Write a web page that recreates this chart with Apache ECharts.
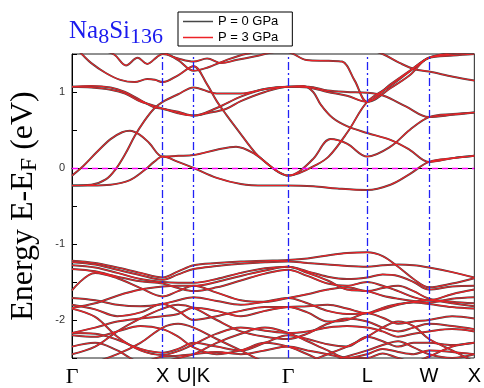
<!DOCTYPE html>
<html>
<head>
<meta charset="utf-8">
<title>Na8Si136 band structure</title>
<script src="https://cdn.jsdelivr.net/npm/echarts@6/dist/echarts.min.js"></script>
<style>
  html, body { margin: 0; padding: 0; background: #fff; }
  #chart { width: 484px; height: 388px; }
</style>
</head>
<body>
<div id="chart"></div>
<script>
// high symmetry points along the k path
const kTicks = [0, 94, 126, 224, 306, 370, 417];
const kLabels = ['Γ', 'X', 'U|K', 'Γ', 'L', 'W', 'X'];
const kLines = [94, 126, 224, 306, 370];

// conduction bands, [k, E]
const cb1 = [[0,-0.23],[20,-0.23],[40,-0.22],[60,-0.16],[75,-0.03],[85,0.08],[94,0.15],[110,0.08],[126,0.0],[150,-0.13],[175,-0.21],[200,-0.23],[224,-0.23],[250,-0.24],[275,-0.27],[306,-0.29],[330,-0.22],[350,-0.08],[370,0.08],[395,0.13],[417,0.16]];
const cb2 = [[0,-0.10],[12,0.03],[25,0.2],[40,0.38],[52,0.47],[60,0.49],[70,0.44],[80,0.33],[94,0.15],[110,0.16],[126,0.17],[150,0.24],[170,0.28],[190,0.18],[205,0.03],[215,-0.06],[224,-0.10],[235,-0.05],[250,0.12],[268,0.38],[285,0.32],[306,0.15],[330,0.28],[350,0.5],[370,0.67],[395,0.71],[417,0.73]];
const cb3 = [[0,-0.23],[20,-0.22],[35,-0.15],[45,-0.02],[55,0.18],[65,0.42],[75,0.62],[85,0.78],[94,0.87],[110,0.97],[126,1.06],[150,0.98],[175,0.98],[200,1.04],[224,1.07],[240,1.08],[250,1.0],[258,0.83],[270,0.66],[285,0.55],[306,0.46],[330,0.37],[350,0.24],[370,0.08],[395,0.13],[417,0.16]];
const cb4 = [[0,1.62],[10,1.5],[20,1.38],[35,1.25],[50,1.16],[65,1.13],[78,1.17],[86,1.16],[94,1.13],[110,1.22],[126,1.34],[140,1.1],[150,0.88],[160,0.7],[173,0.48],[190,0.2],[205,0.03],[215,-0.06],[224,-0.10],[235,-0.07],[250,0.02],[266,0.15],[286,0.48],[306,0.87],[330,1.08],[350,1.27],[370,1.45],[395,1.5],[417,1.52]];
const cb5 = [[0,1.07],[20,1.08],[40,1.06],[55,1.0],[70,0.9],[85,0.8],[94,0.78],[110,0.72],[126,0.69],[150,0.79],[175,0.94],[200,1.04],[224,1.07],[245,1.07],[265,1.02],[285,1.0],[306,0.99],[323,0.95],[346,0.81],[370,0.67],[395,0.70],[417,0.73]];
const cb6 = [[0,1.07],[20,1.06],[40,1.03],[55,0.98],[70,0.88],[85,0.82],[94,0.78],[110,0.74],[126,0.69],[140,0.72],[160,0.78],[175,0.88],[200,1.0],[224,1.07],[245,1.06],[265,1.0],[285,0.95],[306,0.87],[330,1.05],[350,1.22],[370,1.45],[395,1.48],[417,1.5]];
const cb7 = [[0,1.75],[30,1.56],[44,1.49],[56,1.35],[68,1.45],[78,1.37],[88,1.46],[94,1.5],[110,1.44],[126,1.40],[140,1.44],[155,1.38],[170,1.42],[190,1.47],[210,1.52],[224,1.52],[243,1.42],[266,1.41],[280,1.40],[293,1.15],[306,0.87],[330,1.1],[350,1.28],[370,1.45],[395,1.52],[417,1.55]];
const cb8 = [[0,1.8],[47,1.6],[80,1.53],[94,1.52],[110,1.42],[126,1.28],[140,1.32],[160,1.42],[180,1.5],[224,1.6],[280,1.6],[306,1.56],[322,1.5],[340,1.38],[355,1.3],[370,1.27],[395,1.2],[417,1.15]];

// valence bands, energies at the k grid below
const kGrid = [0, 24, 47, 71, 94, 110, 126, 150, 175, 200, 224, 244, 265, 285, 306, 322, 338, 354, 370, 394, 417];
const vb1  = [-1.22,-1.25,-1.31,-1.38,-1.44,-1.36,-1.28,-1.25,-1.23,-1.22,-1.21,-1.19,-1.15,-1.12,-1.11,-1.16,-1.30,-1.46,-1.57,-1.52,-1.45];
const vb2  = [-1.24,-1.27,-1.34,-1.41,-1.47,-1.40,-1.33,-1.29,-1.26,-1.24,-1.23,-1.25,-1.27,-1.29,-1.30,-1.28,-1.27,-1.28,-1.31,-1.37,-1.44];
const vb3  = [-1.28,-1.31,-1.38,-1.46,-1.50,-1.51,-1.51,-1.46,-1.38,-1.32,-1.30,-1.36,-1.43,-1.46,-1.44,-1.40,-1.42,-1.50,-1.60,-1.56,-1.55];
const vb4  = [-1.33,-1.36,-1.43,-1.49,-1.52,-1.58,-1.62,-1.57,-1.48,-1.39,-1.34,-1.42,-1.52,-1.55,-1.50,-1.55,-1.62,-1.70,-1.74,-1.66,-1.60];
const vb5  = [-1.61,-1.38,-1.45,-1.58,-1.69,-1.62,-1.55,-1.64,-1.74,-1.76,-1.71,-1.66,-1.60,-1.57,-1.62,-1.58,-1.55,-1.62,-1.72,-1.76,-1.78];
const vb6  = [-1.71,-1.74,-1.80,-1.82,-1.79,-1.74,-1.70,-1.75,-1.80,-1.76,-1.71,-1.78,-1.88,-1.92,-1.91,-1.84,-1.79,-1.77,-1.79,-1.83,-1.85];
const vb7  = [-1.80,-1.86,-1.95,-1.90,-1.79,-1.88,-2.00,-1.95,-1.88,-1.83,-1.83,-1.90,-2.02,-2.00,-1.91,-1.97,-2.05,-2.02,-2.00,-1.95,-1.98];
const vb8  = [-1.85,-1.96,-2.22,-2.40,-2.46,-2.41,-2.32,-2.18,-2.10,-2.14,-2.17,-2.15,-2.10,-2.08,-2.10,-2.15,-2.22,-2.18,-2.15,-2.12,-2.15];
const vb9  = [-2.17,-2.18,-2.26,-2.38,-2.43,-2.38,-2.30,-2.35,-2.40,-2.30,-2.20,-2.25,-2.32,-2.35,-2.22,-2.28,-2.35,-2.30,-2.30,-2.33,-2.30];
const vb10 = [-2.35,-2.30,-2.40,-2.55,-2.48,-2.47,-2.45,-2.42,-2.45,-2.40,-2.35,-2.40,-2.45,-2.50,-2.45,-2.38,-2.42,-2.45,-2.40,-2.42,-2.45];
const vb11 = [-2.60,-2.55,-2.45,-2.30,-2.10,-2.05,-2.10,-2.25,-2.40,-2.55,-2.60,-2.55,-2.45,-2.35,-2.22,-2.10,-2.02,-2.08,-2.25,-2.40,-2.55];
const vb12 = [-2.60,-2.60,-2.60,-2.60,-2.55,-2.50,-2.45,-2.30,-2.18,-2.10,-2.17,-2.28,-2.40,-2.50,-2.50,-2.44,-2.50,-2.55,-2.48,-2.35,-2.30];
const vb13 = [-1.84,-1.78,-1.68,-1.60,-1.56,-1.55,-1.55,-1.50,-1.42,-1.35,-1.30,-1.38,-1.48,-1.60,-1.62,-1.68,-1.72,-1.75,-1.77,-1.72,-1.70];
const vb14 = [-2.17,-2.10,-2.02,-1.98,-1.95,-1.92,-1.84,-1.88,-1.95,-1.88,-1.83,-1.82,-1.80,-1.85,-1.91,-1.86,-1.80,-1.76,-1.74,-1.78,-1.82];
const vb15 = [-2.45,-2.35,-2.15,-1.98,-1.85,-1.80,-1.84,-2.00,-2.15,-2.22,-2.25,-2.18,-2.05,-1.98,-2.02,-2.10,-2.15,-2.10,-2.05,-2.08,-2.12];
const vb16 = [-2.20,-2.22,-2.15,-2.08,-2.12,-2.22,-2.36,-2.45,-2.40,-2.30,-2.35,-2.45,-2.55,-2.48,-2.40,-2.33,-2.28,-2.36,-2.45,-2.50,-2.45];

const conduction = [cb1, cb2, cb3, cb4, cb5, cb6, cb7, cb8];
const valence = [vb1, vb2, vb3, vb4, vb5, vb6, vb7, vb8, vb9, vb10, vb11, vb12, vb13, vb14, vb15, vb16];

const bands = conduction.concat(valence.map(e => kGrid.map((k, i) => [k, e[i]])));

const grayCol = '#474747';
const redCol = '#ec2227';

function bandSeries(name, col, width) {
    return bands.map(b => ({
        name: name,
        type: 'line',
        data: b,
        showSymbol: false,
        symbol: 'none',
        smooth: 0.35,
        itemStyle: { color: col },
        lineStyle: { color: col, width: width },
        silent: true
    }));
}

const series = bandSeries('P = 0 GPa', grayCol, 2.0).concat(bandSeries('P = 3 GPa', redCol, 1.1));

series.push({
    name: 'guides',
    type: 'line',
    data: [],
    silent: true,
    markLine: {
        silent: true,
        symbol: 'none',
        label: { show: false },
        animation: false,
        data: kLines.map(k => ({ xAxis: k, lineStyle: { color: '#2121f5', type: [8, 3, 2, 3], width: 1.3 } }))
            .concat([{ yAxis: 0, lineStyle: { color: '#ff00ff', type: [6, 4], width: 1.3 } }])
    }
});

const option = {
    animation: false,
    title: {
        left: 69,
        top: 19,
        padding: 0,
        text: '{a|Na}{b|8}{a|Si}{b|136}',
        textStyle: {
            fontWeight: 'normal',
            rich: {
                a: { fontFamily: 'Liberation Serif', fontWeight: 'normal', fontSize: 25, color: '#1a1aee', verticalAlign: 'top', lineHeight: 27 },
                b: { fontFamily: 'Liberation Serif', fontWeight: 'normal', fontSize: 22, color: '#1a1aee', verticalAlign: 'top', lineHeight: 27, padding: [7, 0, 0, 0] }
            }
        }
    },
    legend: {
        left: 178,
        top: 12,
        orient: 'vertical',
        data: ['P = 0 GPa', 'P = 3 GPa'],
        icon: 'rect',
        itemWidth: 30,
        itemHeight: 1.5,
        itemGap: 3,
        padding: [3, 14, 2, 5],
        borderColor: '#000',
        borderWidth: 1,
        backgroundColor: '#fff',
        selectedMode: false,
        textStyle: { fontSize: 13, color: '#000', fontFamily: 'Liberation Sans' }
    },
    grid: {
        left: 69,
        top: 54,
        width: 417,
        height: 309,
        show: true,
        borderColor: '#222',
        borderWidth: 1
    },
    xAxis: {
        type: 'value',
        min: 0,
        max: 417,
        axisLine: { lineStyle: { color: '#000', width: 1 } },
        axisTick: { show: false },
        splitLine: { show: false },
        axisLabel: {
            customValues: kTicks,
            margin: 8,
            fontSize: 20,
            color: '#000',
            fontFamily: 'Liberation Sans',
            formatter: function (v) {
                const i = kTicks.indexOf(v);
                if (i < 0) return '';
                return kLabels[i] === 'Γ' ? '{g|Γ}' : kLabels[i];
            },
            rich: {
                g: { fontFamily: 'Liberation Serif', fontSize: 22, color: '#000' }
            }
        }
    },
    yAxis: {
        type: 'value',
        min: -2.5,
        max: 1.5,
        interval: 0.5,
        axisLine: { show: true, lineStyle: { color: '#000', width: 1 } },
        axisTick: { inside: true, length: 5, lineStyle: { color: '#000' } },
        splitLine: { show: false },
        axisLabel: {
            margin: 7,
            fontSize: 11,
            color: '#333',
            fontFamily: 'Liberation Sans',
            formatter: function (v) {
                return Math.abs(v - Math.round(v)) < 1e-6 ? String(Math.round(v)) : '';
            }
        },
        name: '{a|Energy E-E}{s|F}{a| (eV)}',
        nameLocation: 'middle',
        nameRotate: 90,
        nameGap: 28,
        nameTextStyle: {
            rich: {
                a: { fontFamily: 'Liberation Serif', fontSize: 32, color: '#000', verticalAlign: 'top', lineHeight: 36 },
                s: { fontFamily: 'Liberation Serif', fontSize: 24, color: '#000', verticalAlign: 'top', lineHeight: 36, padding: [10, 0, 0, 0] }
            }
        }
    },
    series: series
};

const chart = echarts.init(document.getElementById('chart'));
chart.setOption(option);
</script>
</body>
</html>
